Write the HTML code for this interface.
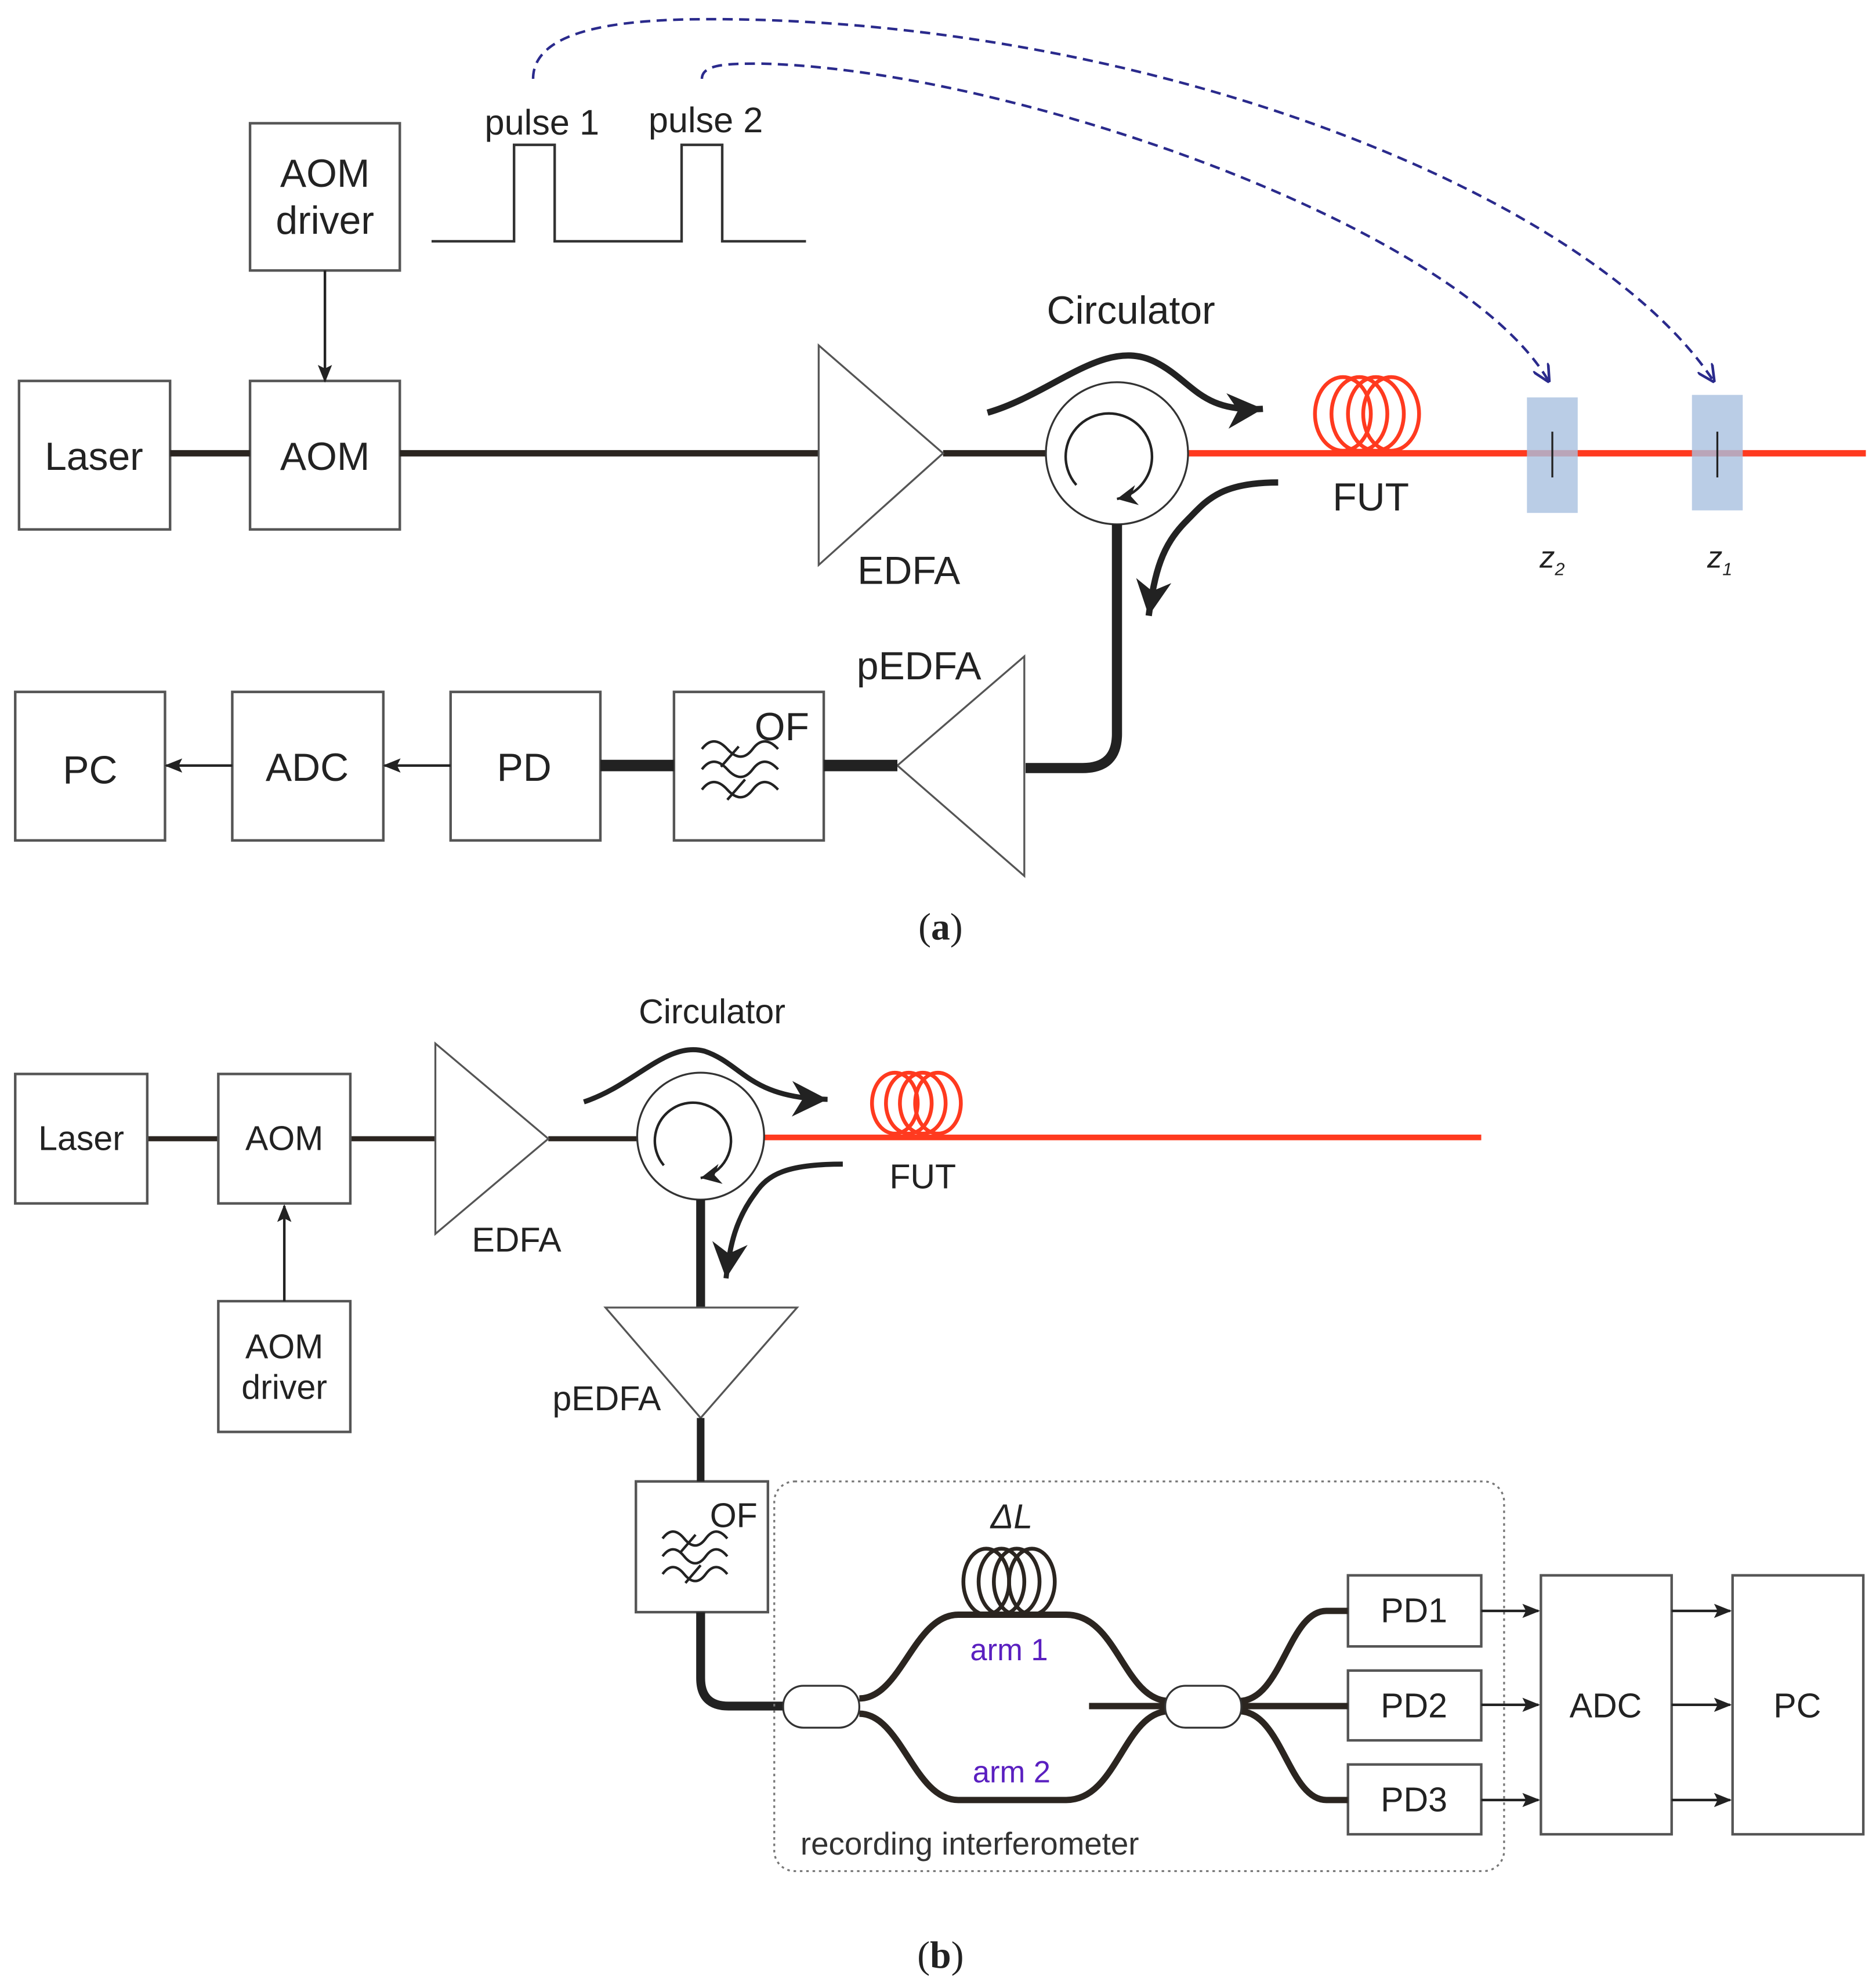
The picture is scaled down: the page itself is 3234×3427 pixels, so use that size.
<!DOCTYPE html>
<html><head><meta charset="utf-8"><style>html,body{margin:0;padding:0;background:#fff}svg{display:block}</style></head>
<body>
<svg width="3234" height="3427" viewBox="0 0 1478 1566" xmlns="http://www.w3.org/2000/svg" font-family="Liberation Sans, sans-serif" fill="none">
<defs>
<marker id="ah" viewBox="0 0 10 10" refX="9" refY="5" markerWidth="14" markerHeight="14" orient="auto" markerUnits="userSpaceOnUse"><path d="M0,1 L10,5 L0,9 L2,5 Z" fill="#222"/></marker>
<marker id="ahb" viewBox="0 0 10 10" refX="10" refY="5" markerWidth="28" markerHeight="28" orient="auto" markerUnits="userSpaceOnUse"><path d="M0,0 L10,5 L0,10 L3,5 Z" fill="#222"/></marker>
<marker id="ahs" viewBox="0 0 10 10" refX="10" refY="5" markerWidth="16" markerHeight="16" orient="auto" markerUnits="userSpaceOnUse"><path d="M0,0 L10,5 L0,10 L3,5 Z" fill="#222"/></marker>
<marker id="ahblue" viewBox="0 0 10 10" refX="9" refY="5" markerWidth="14" markerHeight="14" orient="auto" markerUnits="userSpaceOnUse"><path d="M0,0 L10,5 L0,10" stroke="#2a2a8c" stroke-width="1.5" fill="none"/></marker>
</defs>
<g stroke="#555" stroke-width="2" fill="#fff">
<rect x="197" y="97" width="118" height="116"/>
<rect x="15" y="300" width="119" height="117"/>
<rect x="197" y="300" width="118" height="117"/>
<rect x="531" y="545" width="118" height="117"/>
<rect x="355" y="545" width="118" height="117"/>
<rect x="183" y="545" width="119" height="117"/>
<rect x="12" y="545" width="118" height="117"/>
</g>
<g stroke="#2b2520" stroke-width="5">
<line x1="134" y1="357" x2="197" y2="357"/>
<line x1="315" y1="357" x2="645" y2="357"/>
<line x1="743" y1="357" x2="825" y2="357"/>
</g>
<line x1="256" y1="213" x2="256" y2="300" stroke="#222" stroke-width="2" marker-end="url(#ah)"/>
<polygon points="645,272 645,445 743,357" stroke="#555" stroke-width="1.5" fill="#fff"/>
<line x1="936" y1="357" x2="1470" y2="357" stroke="#ff3a1f" stroke-width="5"/>
<g stroke="#ff3a1f" stroke-width="3">
<ellipse cx="1058" cy="326" rx="22" ry="29"/><ellipse cx="1071" cy="326" rx="22" ry="29"/><ellipse cx="1084" cy="326" rx="22" ry="29"/><ellipse cx="1096" cy="326" rx="22" ry="29"/>
</g>
<rect x="1203" y="313" width="40" height="91" fill="#a9c0e0" opacity="0.8"/>
<rect x="1333" y="311" width="40" height="91" fill="#a9c0e0" opacity="0.8"/>
<line x1="1223" y1="340" x2="1223" y2="376" stroke="#222" stroke-width="1.5"/>
<line x1="1353" y1="340" x2="1353" y2="376" stroke="#222" stroke-width="1.5"/>
<circle cx="880" cy="357" r="56" stroke="#333" stroke-width="1.5" fill="#fff"/>
<path d="M848,382 A34,34 0 1 1 880,393" stroke="#222" stroke-width="2" marker-end="url(#ahs)"/>
<path d="M778,325 C830,310 870,265 910,285 C940,300 945,325 995,322" stroke="#222" stroke-width="5" marker-end="url(#ahb)"/>
<path d="M1007,380 C960,380 950,395 935,410 C915,430 910,450 905,485" stroke="#222" stroke-width="5" marker-end="url(#ahb)"/>
<path d="M880,413 L880,578 Q880,605 853,605 L808,605" stroke="#222" stroke-width="8"/>
<polygon points="807,517 807,690 707,603" stroke="#555" stroke-width="1.5" fill="#fff"/>
<line x1="649" y1="603" x2="707" y2="603" stroke="#222" stroke-width="9"/>
<line x1="473" y1="603" x2="531" y2="603" stroke="#222" stroke-width="9"/>
<g stroke="#222" stroke-width="2">
<path d="M553,590 q9,-12 20,0 t20,0 t20,0"/><path d="M553,606 q9,-12 20,0 t20,0 t20,0"/><path d="M553,622 q9,-12 20,0 t20,0 t20,0"/>
<line x1="568" y1="604" x2="582" y2="588"/><line x1="573" y1="630" x2="587" y2="614"/>
</g>
<line x1="355" y1="603" x2="303" y2="603" stroke="#222" stroke-width="2" marker-end="url(#ah)"/>
<line x1="183" y1="603" x2="131" y2="603" stroke="#222" stroke-width="2" marker-end="url(#ah)"/>
<path d="M340,190 L405,190 L405,114 L437,114 L437,190 L537,190 L537,114 L569,114 L569,190 L635,190" stroke="#333" stroke-width="2"/>
<path d="M420,62 C420,20 500,15 560,15 C900,15 1250,150 1350,300" stroke="#2a2a8c" stroke-width="2" stroke-dasharray="8,5" marker-end="url(#ahblue)"/>
<path d="M553,62 C553,50 575,50 600,50 C800,55 1150,180 1220,300" stroke="#2a2a8c" stroke-width="2" stroke-dasharray="8,5" marker-end="url(#ahblue)"/>
<g fill="#222" font-size="31">
<text x="256" y="147" text-anchor="middle">AOM</text>
<text x="256" y="184" text-anchor="middle">driver</text>
<text x="74" y="370" text-anchor="middle">Laser</text>
<text x="256" y="370" text-anchor="middle">AOM</text>
<text x="716" y="460" text-anchor="middle">EDFA</text>
<text x="891" y="255" text-anchor="middle">Circulator</text>
<text x="1080" y="402" text-anchor="middle">FUT</text>
<text x="724" y="535" text-anchor="middle">pEDFA</text>
<text x="616" y="583" text-anchor="middle">OF</text>
<text x="413" y="615" text-anchor="middle">PD</text>
<text x="242" y="615" text-anchor="middle">ADC</text>
<text x="71" y="617" text-anchor="middle">PC</text>
<text x="427" y="106" text-anchor="middle" font-size="28">pulse 1</text>
<text x="556" y="104" text-anchor="middle" font-size="28">pulse 2</text>
<text x="1213" y="447" font-size="24" font-style="italic">z<tspan font-size="14" dy="6">2</tspan></text>
<text x="1345" y="447" font-size="24" font-style="italic">z<tspan font-size="14" dy="6">1</tspan></text>
<text x="741" y="740" text-anchor="middle" font-family="Liberation Serif, serif" font-size="30">(<tspan font-weight="bold">a</tspan>)</text>
<text x="741" y="1550" text-anchor="middle" font-family="Liberation Serif, serif" font-size="30">(<tspan font-weight="bold">b</tspan>)</text>
</g>
<g stroke="#2b2520" stroke-width="4">
<line x1="116" y1="897" x2="172" y2="897"/>
<line x1="276" y1="897" x2="343" y2="897"/>
<line x1="432" y1="897" x2="503" y2="897"/>
</g>
<g stroke="#555" stroke-width="2" fill="#fff">
<rect x="12" y="846" width="104" height="102"/>
<rect x="172" y="846" width="104" height="102"/>
<rect x="172" y="1025" width="104" height="103"/>
<rect x="501" y="1167" width="104" height="103"/>
<rect x="1062" y="1241" width="105" height="56"/>
<rect x="1062" y="1316" width="105" height="55"/>
<rect x="1062" y="1390" width="105" height="55"/>
<rect x="1214" y="1241" width="103" height="204"/>
<rect x="1365" y="1241" width="103" height="204"/>
</g>
<line x1="224" y1="1025" x2="224" y2="950" stroke="#222" stroke-width="2" marker-end="url(#ah)"/>
<polygon points="343,822 343,972 432,897" stroke="#555" stroke-width="1.5" fill="#fff"/>
<line x1="602" y1="896" x2="1167" y2="896" stroke="#ff3a1f" stroke-width="4.5"/>
<g stroke="#ff3a1f" stroke-width="3">
<ellipse cx="705" cy="869" rx="18" ry="24"/><ellipse cx="716" cy="869" rx="18" ry="24"/><ellipse cx="727" cy="869" rx="18" ry="24"/><ellipse cx="739" cy="869" rx="18" ry="24"/>
</g>
<circle cx="552" cy="895" r="50" stroke="#333" stroke-width="1.5" fill="#fff"/>
<path d="M523,918 A30,30 0 1 1 552,928" stroke="#222" stroke-width="2" marker-end="url(#ahs)"/>
<path d="M460,868 C500,855 525,820 555,828 C585,838 590,865 652,866" stroke="#222" stroke-width="4" marker-end="url(#ahb)"/>
<path d="M664,917 C620,917 605,925 595,940 C580,960 575,980 572,1007" stroke="#222" stroke-width="4" marker-end="url(#ahb)"/>
<line x1="552" y1="945" x2="552" y2="1030" stroke="#222" stroke-width="7"/>
<polygon points="477,1030 628,1030 552,1117" stroke="#555" stroke-width="1.5" fill="#fff"/>
<line x1="552" y1="1117" x2="552" y2="1167" stroke="#222" stroke-width="6"/>
<g stroke="#222" stroke-width="2">
<path d="M522,1212 q8,-11 17,0 t17,0 t17,0"/><path d="M522,1226 q8,-11 17,0 t17,0 t17,0"/><path d="M522,1240 q8,-11 17,0 t17,0 t17,0"/>
<line x1="536" y1="1223" x2="548" y2="1209"/><line x1="540" y1="1247" x2="552" y2="1233"/>
</g>
<path d="M552,1270 L552,1322 Q552,1344 574,1344 L618,1344" stroke="#222" stroke-width="7"/>
<rect x="610" y="1167" width="575" height="307" rx="16" stroke="#777" stroke-width="1.5" stroke-dasharray="2,3"/>
<g stroke="#2b2520" stroke-width="5">
<path d="M677,1338 C710,1338 720,1272 755,1272 L840,1272 C880,1272 885,1338 920,1340"/>
<path d="M677,1350 C710,1350 720,1418 755,1418 L840,1418 C880,1418 885,1350 920,1348"/>
<line x1="858" y1="1344" x2="920" y2="1344"/>
<path d="M976,1340 C1010,1340 1015,1269 1045,1269 L1062,1269"/>
<line x1="976" y1="1344" x2="1062" y2="1344"/>
<path d="M976,1348 C1010,1348 1015,1418 1045,1418 L1062,1418"/>
</g>
<g stroke="#2b2520" stroke-width="3">
<ellipse cx="777" cy="1246" rx="18" ry="26"/><ellipse cx="789" cy="1246" rx="18" ry="26"/><ellipse cx="801" cy="1246" rx="18" ry="26"/><ellipse cx="813" cy="1246" rx="18" ry="26"/>
</g>
<rect x="617" y="1328" width="60" height="33" rx="16" stroke="#333" stroke-width="1.5" fill="#fff"/>
<rect x="918" y="1328" width="60" height="33" rx="16" stroke="#333" stroke-width="1.5" fill="#fff"/>
<g stroke="#222" stroke-width="2">
<line x1="1167" y1="1269" x2="1212" y2="1269" marker-end="url(#ah)"/>
<line x1="1167" y1="1343" x2="1212" y2="1343" marker-end="url(#ah)"/>
<line x1="1167" y1="1418" x2="1212" y2="1418" marker-end="url(#ah)"/>
<line x1="1317" y1="1269" x2="1363" y2="1269" marker-end="url(#ah)"/>
<line x1="1317" y1="1343" x2="1363" y2="1343" marker-end="url(#ah)"/>
<line x1="1317" y1="1418" x2="1363" y2="1418" marker-end="url(#ah)"/>
</g>
<g fill="#222" font-size="27">
<text x="64" y="906" text-anchor="middle">Laser</text>
<text x="224" y="906" text-anchor="middle">AOM</text>
<text x="224" y="1070" text-anchor="middle">AOM</text>
<text x="224" y="1102" text-anchor="middle">driver</text>
<text x="407" y="986" text-anchor="middle">EDFA</text>
<text x="561" y="806" text-anchor="middle">Circulator</text>
<text x="727" y="936" text-anchor="middle">FUT</text>
<text x="478" y="1111" text-anchor="middle">pEDFA</text>
<text x="578" y="1203" text-anchor="middle">OF</text>
<text x="797" y="1204" text-anchor="middle" font-style="italic">ΔL</text>
<text x="795" y="1308" text-anchor="middle" fill="#5a1fc0" font-size="24">arm 1</text>
<text x="797" y="1404" text-anchor="middle" fill="#5a1fc0" font-size="24">arm 2</text>
<text x="764" y="1461" text-anchor="middle" font-size="25" fill="#333">recording interferometer</text>
<text x="1114" y="1278" text-anchor="middle">PD1</text>
<text x="1114" y="1353" text-anchor="middle">PD2</text>
<text x="1114" y="1427" text-anchor="middle">PD3</text>
<text x="1265" y="1353" text-anchor="middle">ADC</text>
<text x="1416" y="1353" text-anchor="middle">PC</text>
</g>
</svg>
</body></html>
